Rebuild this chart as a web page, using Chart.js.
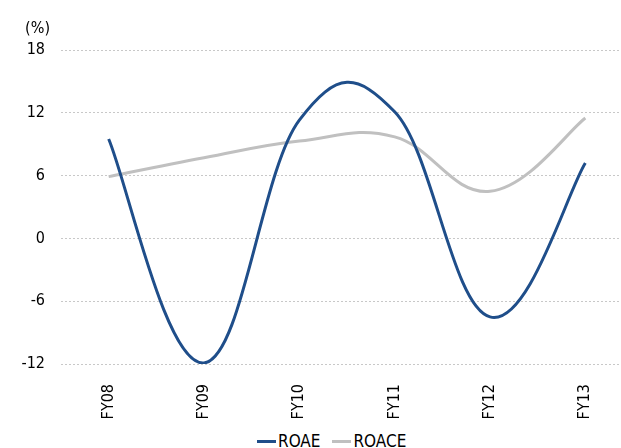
<!DOCTYPE html>
<html>
<head>
<meta charset="utf-8">
<script src="https://cdn.jsdelivr.net/npm/chart.js@4/dist/chart.umd.min.js"></script>
<style>
  html, body { margin: 0; padding: 0; background: #fff; overflow: hidden; }
  #wrap { position: relative; width: 621px; height: 448px; overflow: hidden; }
  #legend { position: absolute; left: 257px; top: 432px; display: flex; align-items: center;
            font: 17px "Liberation Sans Narrow", "DejaVu Sans Condensed", sans-serif; line-height: 18px; color: #000; }
  .legend-item { display: flex; align-items: center; margin-right: 12px; }
  .legend-line { display: inline-block; width: 19px; height: 3px; margin-right: 2px; }
</style>
</head>
<body>
<div id="wrap">
  <canvas id="lineChart" width="633" height="424"></canvas>
  <div id="legend"></div>
</div>
<script>
// ------ DATA ------
const labels = ['FY08', 'FY09', 'FY10', 'FY11', 'FY12', 'FY13'];
const roae   = [9.5, -11.9, 11.3, 12.1, -7.5, 7.2];
const roace  = [5.9, 7.7, 9.3, 9.7, 4.5, 11.5];
const yTicks = { min: -12, max: 18, step: 6 };

const COLORS = {
  roae:  '#1f4e8a',
  roace: '#c0c0c0',
  grid:  '#c8c8c8',
  text:  '#000000'
};
const FONT = '"Liberation Sans Narrow", "DejaVu Sans Condensed", sans-serif';
const SMOOTH = 0.2; // Excel-ish smoothing factor

Chart.defaults.font.family = FONT;
Chart.defaults.color = COLORS.text;

// Excel-style smoothed line (catmull-rom like control points)
const excelSmooth = {
  id: 'excelSmooth',
  beforeDatasetDraw(chart, args) {
    const pts = args.meta.data;
    const n = pts.length;
    for (let i = 0; i < n; i++) {
      const p = pts[i];
      const prev = pts[Math.max(i - 1, 0)];
      const next = pts[Math.min(i + 1, n - 1)];
      const dx = (next.x - prev.x) * SMOOTH, dy = (next.y - prev.y) * SMOOTH;
      p.cp1x = p.x - dx; p.cp1y = p.y - dy;
      p.cp2x = p.x + dx; p.cp2y = p.y + dy;
    }
    args.meta.dataset._pointsUpdated = true;
  }
};

// unit label above y axis
const unitLabel = {
  id: 'unitLabel',
  afterDraw(chart) {
    const ctx = chart.ctx;
    ctx.save();
    ctx.font = '16px ' + FONT;
    ctx.fillStyle = COLORS.text;
    ctx.textAlign = 'right';
    ctx.textBaseline = 'middle';
    ctx.fillText('(%)', 50, 29);
    ctx.restore();
  }
};

const series = [
  { label: 'ROAE', data: roae, color: COLORS.roae },
  { label: 'ROACE', data: roace, color: COLORS.roace }
];

document.getElementById('legend').innerHTML = series.map(s =>
  `<span class="legend-item"><span class="legend-line" style="background:${s.color}"></span>${s.label}</span>`
).join('');

new Chart(document.getElementById('lineChart'), {
  type: 'line',
  data: {
    labels,
    datasets: series.map(s => ({
      label: s.label,
      data: s.data,
      borderColor: s.color,
      backgroundColor: s.color,
      borderWidth: 3,
      pointRadius: 0,
      tension: 0.4,
      fill: false
    }))
  },
  plugins: [excelSmooth, unitLabel],
  options: {
    responsive: false,
    animation: false,
    layout: { padding: { top: 50, left: 0, right: 0, bottom: 0 } },
    plugins: {
      legend: { display: false },
      tooltip: { enabled: false }
    },
    scales: {
      x: {
        offset: true,
        grid: { display: false },
        border: { display: false },
        ticks: { autoSkip: false, minRotation: 90, maxRotation: 90, padding: 12, font: { size: 16 }, color: COLORS.text },
        afterFit: s => { s.height = 60; }
      },
      y: {
        min: yTicks.min,
        max: yTicks.max,
        grid: { color: COLORS.grid, lineWidth: 1, drawTicks: false },
        border: { display: false, dash: [2, 2] },
        ticks: { stepSize: yTicks.step, padding: 16, font: { size: 16 }, color: COLORS.text },
        afterFit: s => { s.width = 61; }
      }
    }
  }
});
</script>
</body>
</html>
